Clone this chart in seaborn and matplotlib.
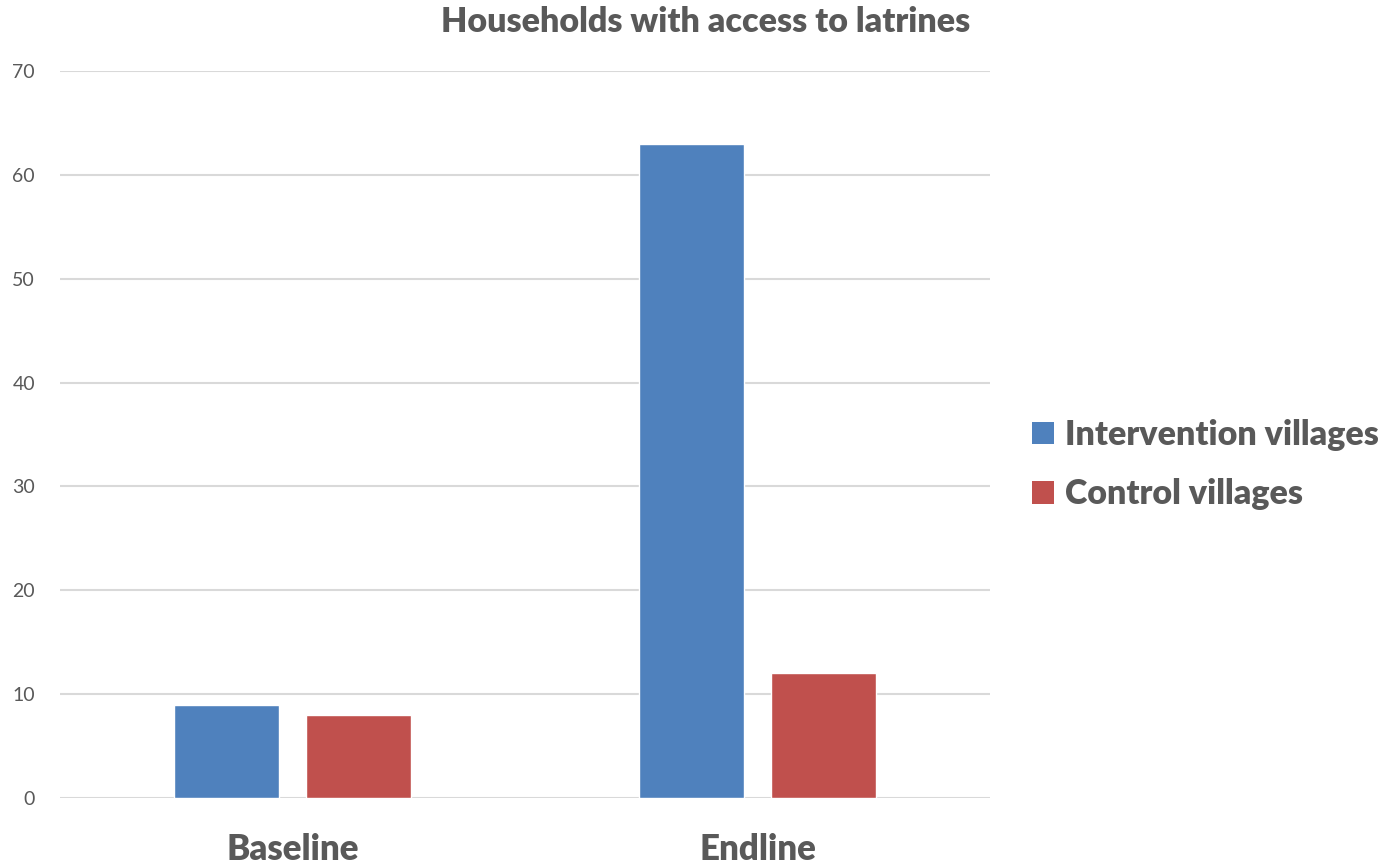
import matplotlib
matplotlib.use("Agg")
import matplotlib.pyplot as plt
import seaborn as sns
import pandas as pd
from matplotlib.patches import Patch

periods = ["Baseline", "Endline"]
series = ["Intervention villages", "Control villages"]
intervention = [9, 63]
control = [8, 12]
y_ticks = [0, 10, 20, 30, 40, 50, 60, 70]

df = pd.DataFrame({
    "period": periods * 2,
    "group": [series[0]] * 2 + [series[1]] * 2,
    "value": intervention + control,
})

sns.set_theme(style="white")
plt.rcParams["font.family"] = ["Lato", "DejaVu Sans"]

text_col = "#595959"
palette = {series[0]: "#4F81BD", series[1]: "#C0504D"}

fig = plt.figure(figsize=(13.91, 8.64), dpi=100)
ax = fig.add_axes([0.0431, 0.0764, 0.6686, 0.8414])

sns.barplot(data=df, x="period", y="value", hue="group", palette=palette,
            width=0.57, gap=0.21, saturation=1, ax=ax, legend=False)

ax.set_ylim(0, 70)
ax.set_yticks(y_ticks)
ax.yaxis.grid(True, color="#D9D9D9", linewidth=1.5)
ax.set_axisbelow(True)
for s in ax.spines.values():
    s.set_visible(False)
ax.tick_params(axis="both", length=0)
ax.tick_params(axis="y", labelsize=14, labelcolor=text_col, pad=18)
ax.tick_params(axis="x", labelsize=25, labelcolor=text_col, pad=25)
for lbl in ax.get_xticklabels():
    lbl.set_fontweight("heavy")
ax.set_xlabel("")
ax.set_ylabel("")

fig.text(0.507, 0.974, "Households with access to latrines", ha="center", va="center",
         fontsize=24.5, fontweight="heavy", color=text_col)

handles = [Patch(facecolor=palette[s], edgecolor="none", label=s) for s in series]
leg = fig.legend(handles=handles, loc="center left", bbox_to_anchor=(0.72, 0.462),
                 frameon=False, fontsize=24.5, handlelength=0.63, handleheight=0.63,
                 handletextpad=0.35, labelspacing=0.8)
for t in leg.get_texts():
    t.set_fontweight("heavy")
    t.set_color(text_col)

fig.savefig("out.png", dpi=100, facecolor="white")
